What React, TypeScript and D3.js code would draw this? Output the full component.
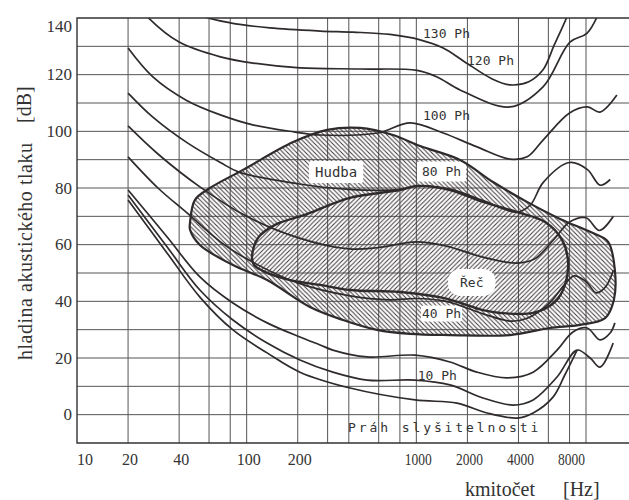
import React, { useEffect, useRef } from 'react';
import * as d3 from 'd3';

// grid + tick values
const gridFreqs = [20, 40, 60, 80, 100, 200, 300, 400, 600, 800, 1000, 2000, 4000, 6000, 8000, 10000];
const freqTicks = [10, 20, 40, 100, 200, 1000, 2000, 4000, 8000];
const dbTicks = [0, 20, 40, 60, 80, 100, 120, 140];

// equal loudness contours, [Hz, dB]
const threshold = [[20, 75.8], [34, 57], [53, 41.5], [83, 29.9], [132, 21.8], [206, 15], [407, 9.4], [983, 5.2], [1737, 4.1], [2610, 0.6], [3930, -1.2], [4880, 0.6], [6390, 6.2], [7500, 14], [8860, 22.8]];
const phon10 = [[20, 77.5], [34, 59.2], [53, 44], [83, 33.4], [132, 25.3], [206, 19.3], [322, 15], [512, 12.2], [983, 12.2], [1577, 10.5], [2470, 5.9], [3720, 3.4], [4880, 5.2], [6750, 13.3], [8860, 22.8], [10580, 20], [12100, 16.8], [14460, 25.3]];
const phon20 = [[20, 79.3], [34, 62.7], [53, 48.6], [83, 39.4], [132, 32.4], [206, 27.4], [271, 24.6], [322, 22.8], [512, 20.4], [983, 21], [1577, 18.6], [2275, 15], [3430, 13], [4880, 15], [6750, 22.8], [8380, 29.2], [10160, 30.6], [12100, 26.4], [13870, 28.8], [14800, 32.4]];
const phon40 = [[20, 91], [30, 80], [44.5, 71.2], [70, 61], [100, 55], [200, 46.5], [400, 42], [700, 40.5], [1000, 41], [1500, 40], [2500, 35.5], [3600, 33], [4500, 34], [6000, 39], [7500, 46], [8500, 49], [10000, 47], [11500, 43], [13000, 45], [14500, 51]];
const phon60 = [[20, 101.9], [30, 92], [53, 80.4], [100, 70], [200, 62.5], [400, 58.5], [600, 59], [1000, 61], [1500, 59.5], [2500, 55.5], [3900, 53.5], [5000, 55], [6500, 62], [8000, 68], [10000, 69.5], [12000, 65], [14500, 70]];
const phon80 = [[20, 113.5], [28, 105], [44.5, 96], [70, 89], [91, 85.5], [200, 81.5], [400, 79.5], [800, 79.5], [1000, 80.7], [1600, 79.5], [2500, 75.5], [3900, 71.5], [4700, 74], [5600, 82], [8000, 89], [10200, 86.5], [12100, 81], [13900, 83]];
const phon100 = [[20, 129.4], [28, 119.2], [44, 111], [70, 105.8], [110, 102.2], [190, 99.8], [270, 98.7], [590, 99.4], [920, 103], [1440, 99.4], [2280, 94.5], [3570, 90.2], [4500, 91], [5600, 97], [8000, 106.5], [10200, 108.6], [12100, 106.8], [15200, 112.8]];
const phon120 = [[24, 143], [26, 140.4], [40, 131.5], [70, 126.3], [109, 124.1], [206, 122.4], [466, 122], [1010, 121.5], [1325, 119.2], [1810, 114.6], [3570, 108.6], [5580, 115.7], [8040, 131.5], [10160, 134.7], [12100, 142.8]];
const phon130 = [[45, 144], [53, 141], [80, 138.3], [137, 136.5], [271, 135.4], [423, 135], [700, 134.2], [1053, 132.3], [1440, 129.4], [1930, 124.5], [2800, 118.5], [3570, 116.4], [4600, 117.5], [5580, 121.7], [6500, 130.5], [7720, 140.4], [8200, 145]];

const contours = [threshold, phon10, phon20, phon40, phon60, phon80, phon100, phon120, phon130];

// hatched areas, [Hz, dB]
const hudba = [[46.4, 68], [49.6, 75.8], [60.8, 80], [95.2, 86.4], [188, 96.2], [298, 100.5], [466, 101.2], [729, 98.7], [1053, 94.8], [1810, 89.9], [2833, 82.1], [4490, 75.1], [7030, 69.1], [10990, 64.1], [13500, 61], [14800, 51], [14600, 40.5], [12960, 34.1], [9230, 31.7], [6130, 30.6], [3570, 28.1], [1577, 28.1], [918, 28.5], [586, 29.9], [370, 33.4], [236, 38], [132, 47.5], [83, 52.8], [53, 59.9], [46.4, 65.2]];
const rec = [[107.5, 55.7], [116.7, 62.4], [147, 67], [227, 70.8], [406, 76.5], [801, 79.3], [1009, 80.7], [1577, 79.3], [2470, 75.1], [3924, 71.5], [5740, 68], [7226, 61.7], [7840, 53.9], [7520, 45.8], [6570, 39.8], [4870, 35.9], [3115, 35.9], [2470, 36.9], [1437, 41.2], [801, 43.3], [406, 44], [271, 45.8], [180, 47.5], [128, 50.4], [110.5, 52.8]];

// annotations: text, Hz, dB (baseline), white padding
const notes = [
    { text: '130 Ph', f: 1095, db: 133, pad: 0 },
    { text: '120 Ph', f: 1990, db: 123.4, pad: 0 },
    { text: '100 Ph', f: 1095, db: 104, pad: 0 },
    { text: '80 Ph', f: 1080, db: 84.2, pad: 5 },
    { text: 'Hudba', f: 253, db: 83.9, pad: 6 },
    { text: '40 Ph', f: 1080, db: 34.1, pad: 1 },
    { text: '10 Ph', f: 1020, db: 12.2, pad: 0 },
    { text: 'Řeč', f: 1810, db: 45.1, pad: 12 },
];

const App = () => {
    const svgRef = useRef<SVGSVGElement>(null);

    useEffect(() => {
        const svg = d3.select(svgRef.current);
        svg.selectAll('*').remove();
        const left = 77, right = 629, top = 18, bottom = 443;
        const ink = '#2f2a2c';

        const x = d3.scaleLog().domain([10, 10000]).range([left, 586]);
        const y = d3.scaleLinear().domain([-10, 140]).range([bottom, top]);

        const defs = svg.append('defs');
        defs.append('clipPath').attr('id', 'plot')
            .append('rect').attr('x', left).attr('y', top).attr('width', right - left).attr('height', bottom - top);
        const hatch = (id: string, d: string) => defs.append('pattern')
            .attr('id', id).attr('patternUnits', 'userSpaceOnUse').attr('width', 4.5).attr('height', 4.5)
            .append('path').attr('d', d).attr('stroke', '#3f373a').attr('stroke-width', 1);
        hatch('back', 'M-1,-1L5.5,5.5M-1,3.5L1,5.5M3.5,-1L5.5,1');
        hatch('fwd', 'M-1,5.5L5.5,-1M-1,1L1,-1M3.5,5.5L5.5,3.5');

        svg.append('rect').attr('width', 629).attr('height', 500).attr('fill', '#fff');

        // grid
        const grid = svg.append('g').attr('stroke', '#555').attr('stroke-width', 1);
        grid.selectAll('.h').data(d3.range(0, 140, 10)).enter().append('line')
            .attr('x1', left).attr('x2', right).attr('y1', (d) => y(d)).attr('y2', (d) => y(d));
        grid.selectAll('.v').data(gridFreqs).enter().append('line')
            .attr('x1', (d) => x(d)).attr('x2', (d) => x(d)).attr('y1', top).attr('y2', bottom);

        const plot = svg.append('g').attr('clip-path', 'url(#plot)');

        // hatched areas
        const blob = d3.line().x((d: any) => x(d[0])).y((d: any) => y(d[1])).curve(d3.curveCatmullRomClosed.alpha(0.5));
        const hudbaD = blob(hudba as any) as string;
        const recD = blob(rec as any) as string;
        plot.append('path').attr('d', hudbaD + recD).attr('fill', 'url(#back)').attr('fill-rule', 'evenodd');
        plot.append('path').attr('d', recD).attr('fill', 'url(#fwd)');

        // labels (white boxes first)
        const labelG = svg.append('g');
        const bgG = plot.append('g');
        notes.forEach((n) => {
            const t = labelG.append('text')
                .attr('x', x(n.f)).attr('y', y(n.db))
                .attr('font-family', '"DejaVu Sans Mono", monospace')
                .attr('font-size', n.text === 'Hudba' ? 14 : 13)
                .attr('fill', '#333')
                .text(n.text);
            if (n.pad) {
                const b = (t.node() as SVGTextElement).getBBox();
                bgG.append('rect')
                    .attr('x', b.x - n.pad).attr('y', b.y - n.pad / 2)
                    .attr('width', b.width + 2 * n.pad).attr('height', b.height + n.pad)
                    .attr('rx', n.text === 'Řeč' ? 12 : 2)
                    .attr('fill', '#fff');
            }
        });

        // contours
        const line = d3.line().x((d: any) => x(d[0])).y((d: any) => y(d[1])).curve(d3.curveCatmullRom.alpha(0.5));
        plot.selectAll('.c').data(contours).enter().append('path')
            .attr('d', (d: any) => line(d))
            .attr('fill', 'none').attr('stroke', ink).attr('stroke-width', 1.7);

        // outlines
        plot.append('path').attr('d', hudbaD).attr('fill', 'none').attr('stroke', ink).attr('stroke-width', 2.2);
        plot.append('path').attr('d', recD).attr('fill', 'none').attr('stroke', ink).attr('stroke-width', 2.4);

        labelG.raise();
        svg.append('text')
            .attr('x', x(396)).attr('y', y(-6.1))
            .attr('font-family', '"DejaVu Sans Mono", monospace').attr('font-size', 13)
            .attr('letter-spacing', 2.9).attr('fill', '#333')
            .text('Práh slyšitelnosti');

        // frame
        svg.append('path')
            .attr('d', `M${right},${top}H${left}V${bottom}H${right}`)
            .attr('fill', 'none').attr('stroke', '#333').attr('stroke-width', 1.4);

        // ticks
        svg.append('g').selectAll('text').data(dbTicks).enter().append('text')
            .attr('x', 72).attr('y', (d) => Math.max(y(d), 26))
            .attr('text-anchor', 'end').attr('dominant-baseline', 'central')
            .attr('font-family', '"Liberation Serif", serif').attr('font-size', 17).attr('fill', '#333')
            .text((d) => d);
        svg.append('g').selectAll('text').data(freqTicks).enter().append('text')
            .attr('x', (d) => (d === 10 ? x(d) : x(d) + 2))
            .attr('y', 459)
            .attr('text-anchor', (d) => (d === 10 ? 'start' : 'middle'))
            .attr('dominant-baseline', 'central')
            .attr('font-family', '"Liberation Serif", serif').attr('font-size', 16).attr('fill', '#333')
            .attr('textLength', (d) => (d >= 1000 ? 27 : null))
            .attr('lengthAdjust', 'spacingAndGlyphs')
            .text((d) => d);

        // titles
        const title = (s: string, tx: number, ty: number, rot: boolean) => svg.append('text')
            .attr('transform', `translate(${tx},${ty})${rot ? ' rotate(-90)' : ''}`)
            .attr('font-family', '"Liberation Serif", serif').attr('font-size', 20).attr('fill', '#333')
            .text(s);
        title('hladina akustického tlaku', 32, 360, true).attr('textLength', 217);
        title('[dB]', 31, 123, true);
        title('kmitočet', 465, 496, false);
        title('[Hz]', 563, 496, false);
    }, []);

    return <svg ref={svgRef} width={629} height={500} style={{ position: 'absolute', left: 0, top: 0 }} />;
};

export default App;
